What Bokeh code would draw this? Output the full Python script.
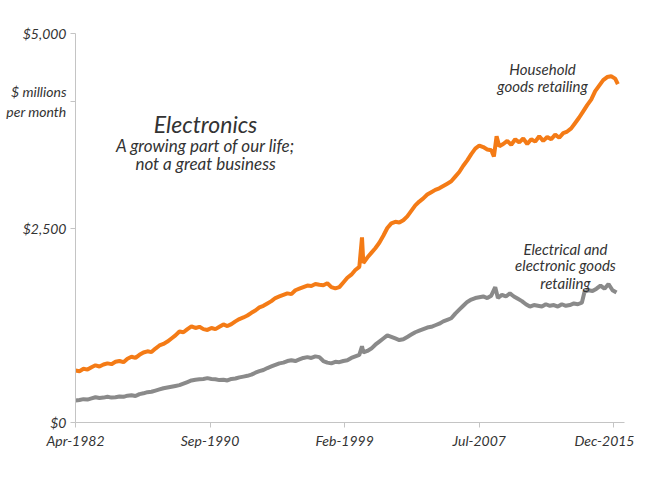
from bokeh.plotting import figure
from bokeh.models import FixedTicker, Label, Range1d
from bokeh.embed import file_html
from bokeh.resources import INLINE

# Month index: 0 = Apr-1982
tick_months = [0, 101, 202, 303, 404]
tick_labels = ["Apr-1982", "Sep-1990", "Feb-1999", "Jul-2007", "Dec-2015"]
y_ticks = [0, 2500, 4126, 5000]
y_labels = ["$0", "$2,500", "$ millions\nper month", "$5,000"]

household_months = [0, 3, 6, 9, 12, 15, 18, 21, 24, 27, 30, 33, 36, 39, 42, 45, 48, 51, 54, 57,
                    60, 63, 66, 69, 72, 75, 78, 81, 84, 87, 90, 93, 96, 99, 102, 105, 108, 111, 114, 117,
                    120, 123, 126, 129, 132, 135, 138, 141, 144, 147, 150, 153, 156, 159, 162, 165, 168, 171, 174, 177,
                    180, 183, 186, 189, 192, 195, 198, 201, 204, 207, 210, 213, 215, 216, 219, 222, 225, 228, 231, 234,
                    237, 240, 243, 246, 249, 252, 255, 258, 261, 264, 267, 270, 273, 276, 279, 282, 285, 288, 291, 294,
                    297, 300, 303, 306, 309, 312, 314, 316, 318, 321, 324, 327, 330, 333, 336, 339, 342, 345, 348, 351,
                    354, 357, 360, 363, 366, 369, 372, 375, 378, 381, 384, 387, 390, 393, 396, 399, 402, 405, 407]
household = [668, 660, 690, 680, 710, 735, 720, 745, 760, 750, 780, 790, 775, 820, 845, 830, 870, 900, 915, 905,
             950, 990, 1010, 1040, 1080, 1120, 1170, 1160, 1200, 1235, 1215, 1230, 1200, 1190, 1215, 1200, 1230, 1260, 1240, 1265,
             1300, 1330, 1350, 1375, 1410, 1440, 1480, 1500, 1530, 1560, 1600, 1620, 1640, 1660, 1650, 1700, 1720, 1740, 1760, 1755,
             1780, 1770, 1765, 1790, 1740, 1725, 1740, 1800, 1860, 1900, 1960, 2000, 2380, 2050, 2120, 2180, 2240, 2310, 2400, 2500,
             2560, 2580, 2570, 2600, 2650, 2720, 2790, 2840, 2880, 2930, 2960, 2990, 3010, 3040, 3070, 3100, 3160, 3220, 3300, 3370,
             3450, 3520, 3560, 3540, 3510, 3500, 3420, 3680, 3550, 3580, 3620, 3570, 3640, 3600, 3650, 3580, 3640, 3610, 3680, 3620,
             3670, 3640, 3700, 3660, 3720, 3740, 3780, 3850, 3920, 4000, 4080, 4150, 4260, 4330, 4400, 4440, 4450, 4420, 4350]

electrical_months = [0, 3, 6, 9, 12, 15, 18, 21, 24, 27, 30, 33, 36, 39, 42, 45, 48, 51, 54, 57,
                     60, 63, 66, 69, 72, 75, 78, 81, 84, 87, 90, 93, 96, 99, 102, 105, 108, 111, 114, 117,
                     120, 123, 126, 129, 132, 135, 138, 141, 144, 147, 150, 153, 156, 159, 162, 165, 168, 171, 174, 177,
                     180, 183, 186, 189, 192, 195, 198, 201, 204, 207, 210, 213, 215, 216, 219, 222, 225, 228, 231, 234,
                     237, 240, 243, 246, 249, 252, 255, 258, 261, 264, 267, 270, 273, 276, 279, 282, 285, 288, 291, 294,
                     297, 300, 303, 306, 309, 312, 315, 317, 320, 323, 326, 329, 332, 335, 338, 341, 344, 347, 350, 353,
                     356, 359, 362, 365, 368, 371, 374, 377, 380, 382, 385, 388, 391, 394, 397, 400, 403, 406]
electrical = [283, 290, 300, 295, 310, 325, 315, 320, 330, 320, 325, 335, 330, 345, 350, 340, 365, 375, 390, 395,
              410, 425, 440, 450, 460, 470, 480, 500, 520, 540, 550, 555, 560, 570, 560, 555, 545, 550, 540, 560,
              565, 580, 590, 600, 615, 640, 660, 675, 700, 720, 740, 760, 770, 790, 800, 790, 810, 830, 840, 830,
              850, 840, 790, 770, 760, 780, 775, 790, 800, 830, 850, 870, 980, 900, 920, 950, 1000, 1040, 1080, 1120,
              1100, 1080, 1060, 1070, 1100, 1130, 1160, 1180, 1200, 1220, 1230, 1250, 1270, 1300, 1320, 1340, 1400, 1450, 1500, 1550,
              1580, 1600, 1610, 1620, 1600, 1630, 1740, 1600, 1640, 1620, 1660, 1620, 1590, 1560, 1520, 1490, 1510, 1500, 1490, 1520,
              1500, 1510, 1490, 1520, 1500, 1510, 1530, 1520, 1540, 1680, 1700, 1690, 1720, 1760, 1720, 1780, 1700, 1670]

TEXT = "#333333"
FONT = "Lato"

p = figure(width=634, height=471, output_backend="svg", toolbar_location=None,
           x_range=Range1d(0, 412), y_range=Range1d(0, 5000),
           min_border_left=75, min_border_right=10, min_border_top=33, min_border_bottom=49)
p.outline_line_color = None
p.xgrid.grid_line_color = None
p.ygrid.grid_line_color = None
p.background_fill_color = "white"

p.line(electrical_months, electrical, line_color="#8a8a8a", line_width=4)
p.line(household_months, household, line_color="#f47b16", line_width=4)

for ax in (p.xaxis[0], p.yaxis[0]):
    ax.axis_line_color = "#c4c4c4"
    ax.major_tick_line_color = "#c4c4c4"
    ax.minor_tick_line_color = None
    ax.major_tick_in = 0
    ax.major_tick_out = 5
    ax.major_label_text_font = FONT
    ax.major_label_text_font_style = "italic"
    ax.major_label_text_color = TEXT
    ax.major_label_text_font_size = "14px"

p.xaxis.ticker = FixedTicker(ticks=tick_months)
p.xaxis.major_label_overrides = {m: l for m, l in zip(tick_months, tick_labels)}
p.xaxis.major_label_standoff = 4
p.yaxis.ticker = FixedTicker(ticks=y_ticks)
p.yaxis.major_label_overrides = {v: l for v, l in zip(y_ticks, y_labels)}
p.yaxis.major_label_standoff = 4


def add_text(x, y, s, size, align="center"):
    p.add_layout(Label(x=x, y=y, text=s, text_font=FONT, text_font_style="italic",
                       text_font_size=size, text_color=TEXT, text_align=align,
                       text_baseline="middle"))


add_text(97.6, 3843, "Electronics", "23px")
add_text(97.6, 3560, "A growing part of our life;", "17px")
add_text(97.6, 3329, "not a great business", "17px")
add_text(350.5, 4550, "Household", "15px")
add_text(350.5, 4331, "goods retailing", "15px")
add_text(367.7, 2236, "Electrical and", "15px")
add_text(367.7, 2018, "electronic goods", "15px")
add_text(367.7, 1799, "retailing", "15px")

open("out.html", "w").write(file_html(p, INLINE))
